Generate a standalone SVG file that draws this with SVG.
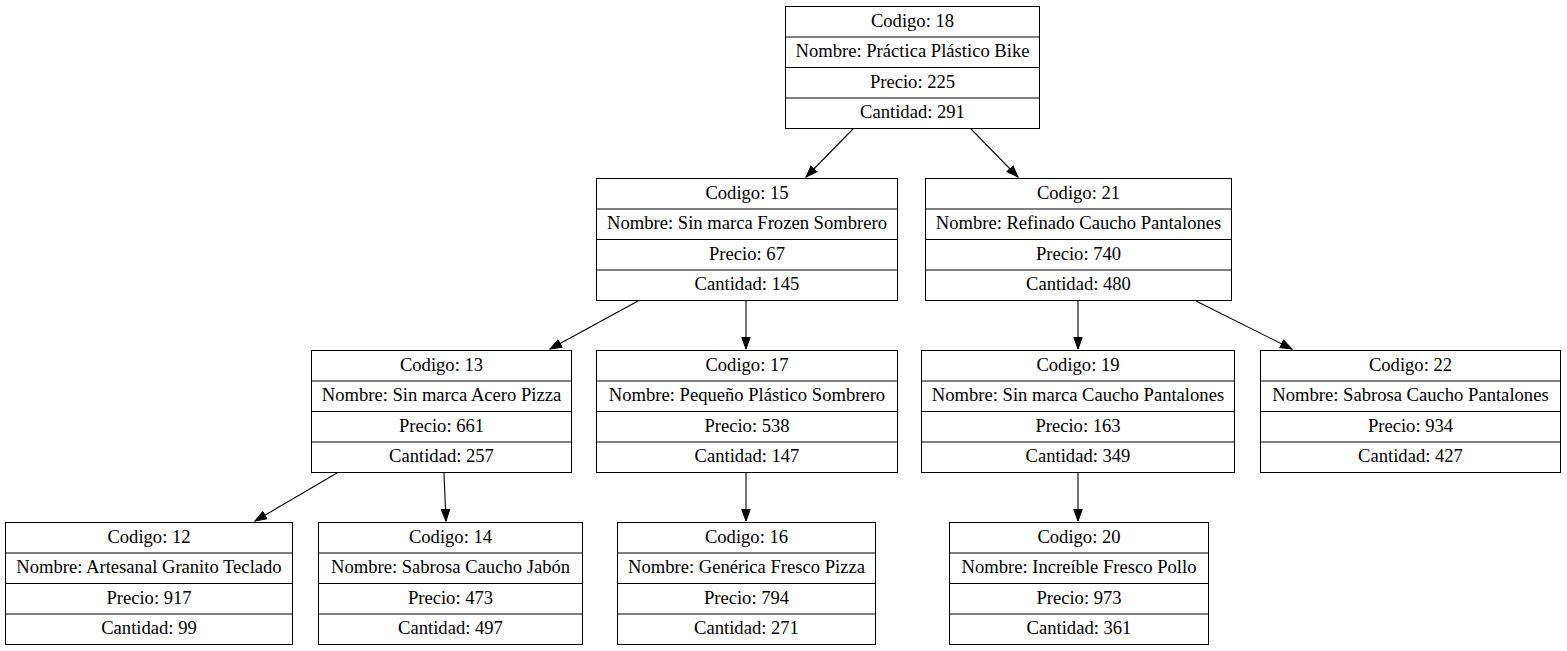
<svg xmlns="http://www.w3.org/2000/svg" width="1567" height="651" viewBox="0 0 1567 651">
<defs>
<style>
.box{fill:#fff;stroke:#000;stroke-width:1}
.sep{stroke:#000;stroke-width:1}
.lbl{font-family:'Liberation Serif','Times New Roman','DejaVu Serif',serif;font-size:18.6px;text-anchor:middle;fill:#000}
.edge{stroke:#000;stroke-width:1.1;fill:none;marker-end:url(#arr)}
</style>
<marker id="arr" markerUnits="userSpaceOnUse" markerWidth="13" markerHeight="10" refX="12" refY="5" orient="auto">
<path d="M0.5,0.8 L12,5 L0.5,9.2 Z" fill="#000" stroke="#000"/>
</marker>
</defs>
<rect width="1567" height="651" fill="#fff"/>
<g id="edges">
<line class="edge" x1="853" y1="129" x2="806" y2="177"/>
<line class="edge" x1="971" y1="129" x2="1018" y2="177"/>
<line class="edge" x1="638" y1="301" x2="550" y2="349"/>
<line class="edge" x1="746" y1="301" x2="746" y2="349"/>
<line class="edge" x1="1078" y1="301" x2="1078" y2="349"/>
<line class="edge" x1="1196" y1="301" x2="1292" y2="349"/>
<line class="edge" x1="337" y1="473" x2="255" y2="521"/>
<line class="edge" x1="444" y1="473" x2="446" y2="521"/>
<line class="edge" x1="746" y1="473" x2="746" y2="521"/>
<line class="edge" x1="1078" y1="473" x2="1078" y2="521"/>
</g>
<g class="lbl" font-family="Liberation Serif, Times New Roman, serif">
<g id="n18" transform="translate(785.5,6.5)">
<rect class="box" width="254" height="122"/>
<line class="sep" x1="0" y1="30.5" x2="254" y2="30.5"/><line class="sep" x1="0" y1="61" x2="254" y2="61"/><line class="sep" x1="0" y1="91.5" x2="254" y2="91.5"/>
<text x="127" y="20">Codigo: 18</text><text x="127" y="50.5">Nombre: Práctica Plástico Bike</text><text x="127" y="81">Precio: 225</text><text x="127" y="111.5">Cantidad: 291</text>
</g>
<g id="n15" transform="translate(596.5,178.5)">
<rect class="box" width="301" height="122"/>
<line class="sep" x1="0" y1="30.5" x2="301" y2="30.5"/><line class="sep" x1="0" y1="61" x2="301" y2="61"/><line class="sep" x1="0" y1="91.5" x2="301" y2="91.5"/>
<text x="150.5" y="20">Codigo: 15</text><text x="150.5" y="50.5">Nombre: Sin marca Frozen Sombrero</text><text x="150.5" y="81">Precio: 67</text><text x="150.5" y="111.5">Cantidad: 145</text>
</g>
<g id="n21" transform="translate(925.5,178.5)">
<rect class="box" width="306" height="122"/>
<line class="sep" x1="0" y1="30.5" x2="306" y2="30.5"/><line class="sep" x1="0" y1="61" x2="306" y2="61"/><line class="sep" x1="0" y1="91.5" x2="306" y2="91.5"/>
<text x="153" y="20">Codigo: 21</text><text x="153" y="50.5">Nombre: Refinado Caucho Pantalones</text><text x="153" y="81">Precio: 740</text><text x="153" y="111.5">Cantidad: 480</text>
</g>
<g id="n13" transform="translate(311.5,350.5)">
<rect class="box" width="260" height="122"/>
<line class="sep" x1="0" y1="30.5" x2="260" y2="30.5"/><line class="sep" x1="0" y1="61" x2="260" y2="61"/><line class="sep" x1="0" y1="91.5" x2="260" y2="91.5"/>
<text x="130" y="20">Codigo: 13</text><text x="130" y="50.5">Nombre: Sin marca Acero Pizza</text><text x="130" y="81">Precio: 661</text><text x="130" y="111.5">Cantidad: 257</text>
</g>
<g id="n17" transform="translate(596.5,350.5)">
<rect class="box" width="301" height="122"/>
<line class="sep" x1="0" y1="30.5" x2="301" y2="30.5"/><line class="sep" x1="0" y1="61" x2="301" y2="61"/><line class="sep" x1="0" y1="91.5" x2="301" y2="91.5"/>
<text x="150.5" y="20">Codigo: 17</text><text x="150.5" y="50.5">Nombre: Pequeño Plástico Sombrero</text><text x="150.5" y="81">Precio: 538</text><text x="150.5" y="111.5">Cantidad: 147</text>
</g>
<g id="n19" transform="translate(921.5,350.5)">
<rect class="box" width="313" height="122"/>
<line class="sep" x1="0" y1="30.5" x2="313" y2="30.5"/><line class="sep" x1="0" y1="61" x2="313" y2="61"/><line class="sep" x1="0" y1="91.5" x2="313" y2="91.5"/>
<text x="156.5" y="20">Codigo: 19</text><text x="156.5" y="50.5">Nombre: Sin marca Caucho Pantalones</text><text x="156.5" y="81">Precio: 163</text><text x="156.5" y="111.5">Cantidad: 349</text>
</g>
<g id="n22" transform="translate(1260.5,350.5)">
<rect class="box" width="300" height="122"/>
<line class="sep" x1="0" y1="30.5" x2="300" y2="30.5"/><line class="sep" x1="0" y1="61" x2="300" y2="61"/><line class="sep" x1="0" y1="91.5" x2="300" y2="91.5"/>
<text x="150" y="20">Codigo: 22</text><text x="150" y="50.5">Nombre: Sabrosa Caucho Pantalones</text><text x="150" y="81">Precio: 934</text><text x="150" y="111.5">Cantidad: 427</text>
</g>
<g id="n12" transform="translate(5.5,522.5)">
<rect class="box" width="287" height="122"/>
<line class="sep" x1="0" y1="30.5" x2="287" y2="30.5"/><line class="sep" x1="0" y1="61" x2="287" y2="61"/><line class="sep" x1="0" y1="91.5" x2="287" y2="91.5"/>
<text x="143.5" y="20">Codigo: 12</text><text x="143.5" y="50.5">Nombre: Artesanal Granito Teclado</text><text x="143.5" y="81">Precio: 917</text><text x="143.5" y="111.5">Cantidad: 99</text>
</g>
<g id="n14" transform="translate(318.5,522.5)">
<rect class="box" width="264" height="122"/>
<line class="sep" x1="0" y1="30.5" x2="264" y2="30.5"/><line class="sep" x1="0" y1="61" x2="264" y2="61"/><line class="sep" x1="0" y1="91.5" x2="264" y2="91.5"/>
<text x="132" y="20">Codigo: 14</text><text x="132" y="50.5">Nombre: Sabrosa Caucho Jabón</text><text x="132" y="81">Precio: 473</text><text x="132" y="111.5">Cantidad: 497</text>
</g>
<g id="n16" transform="translate(617.5,522.5)">
<rect class="box" width="258" height="122"/>
<line class="sep" x1="0" y1="30.5" x2="258" y2="30.5"/><line class="sep" x1="0" y1="61" x2="258" y2="61"/><line class="sep" x1="0" y1="91.5" x2="258" y2="91.5"/>
<text x="129" y="20">Codigo: 16</text><text x="129" y="50.5">Nombre: Genérica Fresco Pizza</text><text x="129" y="81">Precio: 794</text><text x="129" y="111.5">Cantidad: 271</text>
</g>
<g id="n20" transform="translate(949.5,522.5)">
<rect class="box" width="259" height="122"/>
<line class="sep" x1="0" y1="30.5" x2="259" y2="30.5"/><line class="sep" x1="0" y1="61" x2="259" y2="61"/><line class="sep" x1="0" y1="91.5" x2="259" y2="91.5"/>
<text x="129.5" y="20">Codigo: 20</text><text x="129.5" y="50.5">Nombre: Increíble Fresco Pollo</text><text x="129.5" y="81">Precio: 973</text><text x="129.5" y="111.5">Cantidad: 361</text>
</g>
</g>
</svg>
